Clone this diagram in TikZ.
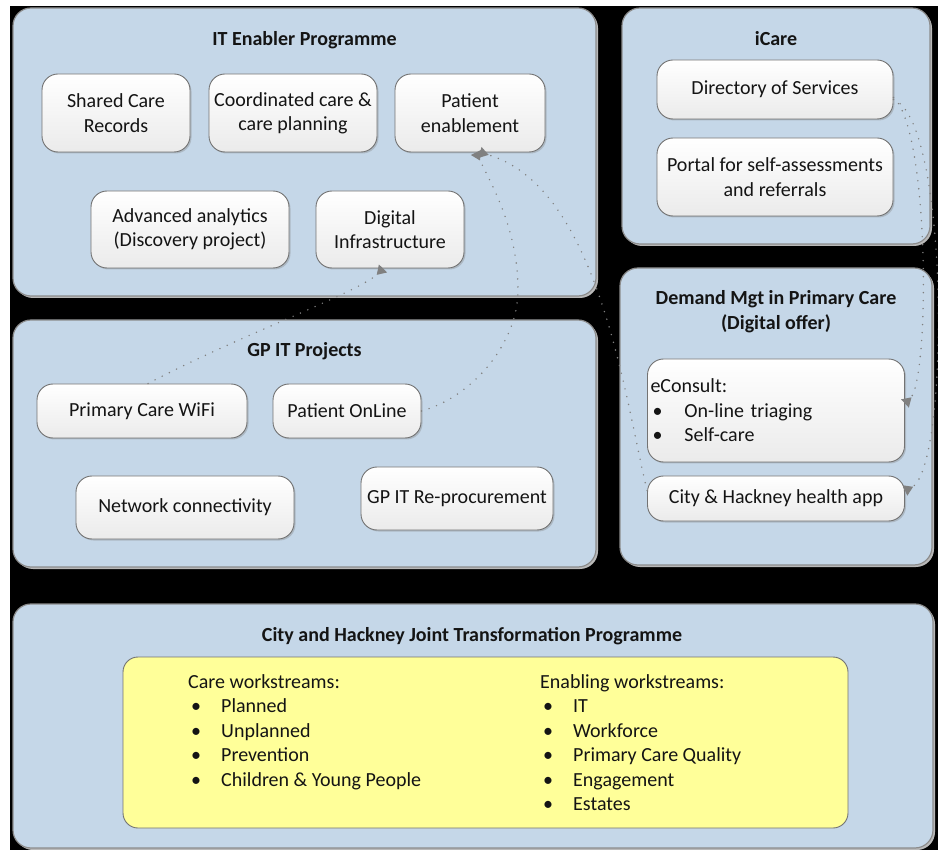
\documentclass[tikz,border=0pt]{standalone}
\usepackage{fontspec}
\setmainfont{Carlito}
\usetikzlibrary{arrows.meta,shadows}
\definecolor{panelfill}{RGB}{197,215,232}
\definecolor{panelline}{RGB}{140,140,140}
\definecolor{boxline}{RGB}{115,115,115}
\definecolor{notefill}{RGB}{255,255,153}
\definecolor{linkcol}{RGB}{128,128,128}
\definecolor{txt}{RGB}{20,20,20}
\begin{document}
\begin{tikzpicture}[x=1pt,y=-1pt,
  panel/.style={draw=panelline, line width=1.2pt, fill=panelfill, rounded corners=18pt, inner sep=0pt,
    drop shadow={shadow xshift=2pt, shadow yshift=-2pt, fill=gray!55, opacity=1}},
  item/.style={draw=boxline, line width=0.9pt, rounded corners=16pt, top color=white, bottom color=gray!16,
    align=center, text=txt, font=\fontsize{20}{24.4}\selectfont, inner sep=0pt,
    drop shadow={shadow xshift=1.5pt, shadow yshift=-1.5pt, fill=gray, opacity=0.35}},
  ttl/.style={font=\fontsize{20}{25}\selectfont\bfseries, text=txt, inner sep=0pt},
  lst/.style={font=\fontsize{20}{24.5}\selectfont, text=txt, align=left, inner sep=0pt, anchor=north west},
  link/.style={draw=linkcol, line width=1.6pt, line cap=round, dash pattern=on 0pt off 8pt,
    -{Triangle[reversed,length=9pt,width=11pt]}}
]
\useasboundingbox (0,0) rectangle (938,850);
\fill[white] (0,0) rectangle (938,850);
\fill[black] (10,6) rectangle (938,850);

% panels
\node[panel, minimum width=583pt, minimum height=288pt] (itp) at (304.5,152) {};
\node[panel, minimum width=308pt, minimum height=236pt] (icare) at (776,126) {};
\node[panel, minimum width=312pt, minimum height=297pt] (dm) at (776,416.5) {};
\node[panel, minimum width=583pt, minimum height=247pt] (gp) at (304.5,443.5) {};
\node[panel, minimum width=920pt, minimum height=244pt] (jt) at (473,726) {};

% titles
\node[ttl, anchor=base] (itpT) at (304.5,46) {IT Enabler Programme};
\node[ttl, anchor=base] (icareT) at (776,46) {iCare};
\node[ttl, anchor=north, align=center] (dmT) at (776,286.5) {\strut Demand Mgt in Primary Care\\(Digital offer)};
\node[ttl, anchor=base] (gpT) at (304.5,357) {GP IT Projects};
\node[ttl, anchor=base] (jtT) at (472,641) {City and Hackney Joint Transformation Programme};

% IT enabler items
\node[item, minimum width=148pt, minimum height=78pt] (scr) at (116,113) {Shared Care\\Records};
\node[item, minimum width=168pt, minimum height=78pt] (ccp) at (293,113) {Coordinated care \&\\care planning};
\node[item, minimum width=150pt, minimum height=78pt] (pe) at (470,113) {Patient\\enablement};
\node[item, minimum width=198pt, minimum height=77pt] (aa) at (190,229.5) {Advanced analytics\\(Discovery project)};
\node[item, minimum width=148pt, minimum height=77pt] (di) at (390,229.5) {Digital\\Infrastructure};

% iCare items
\node[item, minimum width=236pt, minimum height=59pt] (dos) at (775,89.5) {Directory of Services};
\node[item, minimum width=236pt, minimum height=78pt] (portal) at (775,177) {Portal for self-assessments\\and referrals};

% Demand items
\node[item, minimum width=257pt, minimum height=103pt, align=left, text width=251pt, inner xsep=3pt] (econ) at (776,410.5)
  {eConsult:\\\makebox[34pt][l]{\hspace{2pt}\textbullet}On-line triaging\\\makebox[34pt][l]{\hspace{2pt}\textbullet}Self-care};
\node[item, minimum width=257pt, minimum height=45pt] (app) at (776,498.5) {City \& Hackney health app};

% GP IT items
\node[item, minimum width=210pt, minimum height=54pt] (wifi) at (142,411) {Primary Care WiFi};
\node[item, minimum width=148pt, minimum height=54pt] (po) at (347,411) {Patient OnLine};
\node[item, minimum width=218pt, minimum height=63pt] (nc) at (185,507.5) {Network connectivity};
\node[item, minimum width=192pt, minimum height=63pt] (gpr) at (457,498.5) {GP IT Re-procurement};

% joint transformation
\node[draw=boxline, line width=0.9pt, fill=notefill, rounded corners=15pt, minimum width=725pt, minimum height=171pt] (yl) at (485.5,742.5) {};
\node[lst] (care) at (188,671) {\strut Care workstreams:\\
  \makebox[33pt][l]{\hspace{3pt}\textbullet}Planned\\
  \makebox[33pt][l]{\hspace{3pt}\textbullet}Unplanned\\
  \makebox[33pt][l]{\hspace{3pt}\textbullet}Prevention\\
  \makebox[33pt][l]{\hspace{3pt}\textbullet}Children \& Young People};
\node[lst] (enab) at (540,671) {\strut Enabling workstreams:\\
  \makebox[33pt][l]{\hspace{3pt}\textbullet}IT\\
  \makebox[33pt][l]{\hspace{3pt}\textbullet}Workforce\\
  \makebox[33pt][l]{\hspace{3pt}\textbullet}Primary Care Quality\\
  \makebox[33pt][l]{\hspace{3pt}\textbullet}Engagement\\
  \makebox[33pt][l]{\hspace{3pt}\textbullet}Estates};

% connectors
\draw[link] ([xshift=6pt]wifi.north) .. controls (240,335) and (360,292) .. ([xshift=-7pt]di.south);
\draw[link] (po.east) .. controls (470,398) and (518,345) .. (518,290) .. controls (518,230) and (492,185) .. ([xshift=6pt]pe.south);
\draw[link] ([yshift=8pt]app.west) .. controls (625,400) and (599,186) .. ([xshift=10pt]pe.south);
\draw[link] ([yshift=-8pt]dos.east) .. controls (930,130) and (930,380) .. ([yshift=7pt]econ.east);
\draw[link] ([yshift=-10pt]dos.east) .. controls (950,120) and (950,470) .. ([yshift=8pt]app.east);
\end{tikzpicture}
\end{document}
